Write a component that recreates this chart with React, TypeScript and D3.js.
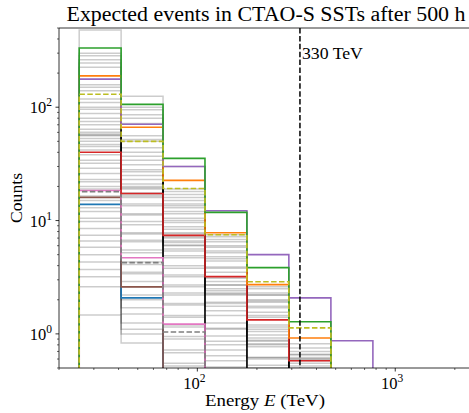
import React from "react";
import * as d3 from "d3";

const W = 469;
const H = 413;

const binEdges = [25.3, 41.2, 67.1, 109.3, 178, 290, 473, 771];

const greyModels: number[][] = [
  [480, 125, 30, 7.5, 2.2, 0.6, 0],
  [300, 100, 19, 7.2, 2.6, 0.82, 0],
  [285, 95, 18, 6.5, 2.3, 0.75, 0],
  [262, 86, 17, 6.8, 2.5, 0.7, 0],
  [245, 80, 16, 5.8, 2.0, 0.62, 0],
  [225, 72, 15, 6.0, 2.2, 0.65, 0],
  [158, 56, 14, 5.4, 1.9, 0.6, 0],
  [150, 52, 13, 4.8, 1.7, 0.55, 0],
  [140, 50, 13.5, 5.2, 1.95, 0.66, 0],
  [118, 44, 12, 4.4, 1.55, 0.5, 0],
  [110, 40, 11.5, 4.6, 1.75, 0.58, 0],
  [100, 37, 10.5, 3.9, 1.4, 0, 0],
  [96, 34, 10, 3.5, 1.2, 0, 0],
  [88, 31, 9.6, 3.8, 1.45, 0.52, 0],
  [80, 28, 8.8, 3.2, 1.1, 0, 0],
  [75, 27, 8.4, 3.1, 1.15, 0, 0],
  [70, 25, 7.6, 2.7, 0.92, 0, 0],
  [64, 23, 7.8, 2.9, 1.05, 0, 0],
  [60, 21, 7.0, 2.5, 0.88, 0, 0],
  [58, 19, 6.4, 2.3, 0.8, 0, 0],
  [57, 20, 6.6, 2.4, 0.86, 0, 0],
  [56, 19.5, 7.2, 2.7, 0.98, 0, 0],
  [53, 17, 5.6, 1.9, 0.62, 0, 0],
  [50, 17.5, 6.1, 2.2, 0.77, 0, 0],
  [47, 16, 5.4, 1.85, 0.6, 0, 0],
  [45, 16.5, 6.0, 2.25, 0.82, 0, 0],
  [42, 14, 4.7, 1.6, 0.53, 0, 0],
  [38, 13.5, 4.9, 1.75, 0.62, 0, 0],
  [34, 11.5, 3.8, 1.25, 0, 0, 0],
  [32, 11.2, 4.0, 1.45, 0.5, 0, 0],
  [29, 9.8, 3.3, 1.1, 0, 0, 0],
  [26, 9.2, 3.2, 1.12, 0, 0, 0],
  [23, 7.8, 2.6, 0.86, 0, 0, 0],
  [22, 7.6, 2.7, 0.96, 0, 0, 0],
  [20, 6.7, 2.2, 0.72, 0, 0, 0],
  [19, 6.5, 2.3, 0.8, 0, 0, 0],
  [16.5, 5.5, 1.8, 0.58, 0, 0, 0],
  [15, 5.2, 1.85, 0.64, 0, 0, 0],
  [13, 4.3, 1.4, 0, 0, 0, 0],
  [12, 4.1, 1.45, 0.51, 0, 0, 0],
  [10.5, 3.5, 1.15, 0, 0, 0, 0],
  [9.8, 3.4, 1.2, 0, 0, 0, 0],
  [8.5, 2.9, 0.95, 0, 0, 0, 0],
  [7.4, 2.6, 0.9, 0, 0, 0, 0],
  [6.6, 2.2, 0.72, 0, 0, 0, 0],
  [5.8, 2.0, 0.68, 0, 0, 0, 0],
  [5.0, 1.7, 0.55, 0, 0, 0, 0],
  [4.3, 1.5, 0.52, 0, 0, 0, 0],
  [3.7, 1.25, 0, 0, 0, 0, 0],
  [3.2, 1.1, 0, 0, 0, 0, 0],
  [2.6, 1.0, 0, 0, 0, 0, 0],
  [1.47, 0.83, 0, 0, 0, 0, 0],
];

const blueCounts = [13.9, 2.08, 0, 0, 0, 0, 0];
const brownCounts = [16, 2.6, 0, 0, 0, 0, 0];
const pinkCounts = [18.4, 4.7, 1.22, 0, 0, 0, 0];
const greyDashedCounts = [18, 4.25, 1.04, 0, 0, 0, 0];
const redCounts = [40, 17.3, 7.4, 3.2, 1.33, 0.58, 0];
const orangeCounts = [189, 66.6, 22.6, 7.8, 2.72, 0.92, 0];
const greenCounts = [333, 106, 35.4, 11.8, 3.84, 1.28, 0];
const purpleCounts = [177, 70.7, 30, 12.2, 5.0, 2.08, 0.87];
const oliveCounts = [130, 50, 19.2, 7.5, 2.88, 1.13, 0];

const cutoffEnergy = 330;
const xTickVals = [100, 1000];
const yTickVals = [1, 10, 100];

const M = { left: 59, right: 474, top: 28, bottom: 368 };

export default function App() {
  const x = d3.scaleLog().domain([20, 2500]).range([M.left, M.right]);
  const y = d3.scaleLog().domain([0.5, 500]).range([M.bottom, M.top]);
  const floorY = M.bottom + 50;
  const yy = (v: number) => (v > 0 ? y(v) : floorY);

  const stepPath = (counts: number[]) => {
    const pts: [number, number][] = [[x(binEdges[0]), floorY]];
    counts.forEach((c, i) => {
      pts.push([x(binEdges[i]), yy(c)]);
      pts.push([x(binEdges[i + 1]), yy(c)]);
    });
    pts.push([x(binEdges[binEdges.length - 1]), floorY]);
    return d3.line()(pts) || "";
  };

  const colored = [
    { c: blueCounts, col: "#1f77b4", dash: "" },
    { c: brownCounts, col: "#8c564b", dash: "" },
    { c: pinkCounts, col: "#e377c2", dash: "" },
    { c: greyDashedCounts, col: "#7f7f7f", dash: "5.5,2.4" },
    { c: redCounts, col: "#d62728", dash: "" },
    { c: orangeCounts, col: "#ff7f0e", dash: "" },
    { c: purpleCounts, col: "#9467bd", dash: "" },
    { c: greenCounts, col: "#2ca02c", dash: "" },
    { c: oliveCounts, col: "#bcbd22", dash: "5.5,2.4" },
  ];

  const xMinor: number[] = [];
  for (let d = 10; d <= 1000; d *= 10) {
    for (let k = 2; k <= 9; k++) {
      const v = d * k;
      if (v >= 20 && v <= 2500) xMinor.push(v);
    }
  }
  const yMinor: number[] = [];
  for (let d = 0.1; d <= 100; d *= 10) {
    for (let k = 2; k <= 9; k++) {
      const v = d * k;
      if (v >= 0.5 && v <= 500) yMinor.push(v);
    }
  }

  const font = "'Liberation Serif', 'DejaVu Serif', serif";

  return (
    <svg
      width={W}
      height={H}
      style={{ position: "absolute", left: 0, top: 0, background: "#fff" }}
      fontFamily={font}
    >
      <defs>
        <clipPath id="plot">
          <rect x={M.left} y={M.top} width={M.right - M.left} height={M.bottom - M.top} />
        </clipPath>
      </defs>
      <rect x={0} y={0} width={W} height={H} fill="#fff" />
      <g clipPath="url(#plot)">
        {greyModels.map((c, i) => (
          <path key={i} d={stepPath(c)} fill="none" stroke="#000" strokeOpacity={0.2} strokeWidth={1.5} />
        ))}
        {colored.map((s, i) => (
          <path
            key={"c" + i}
            d={stepPath(s.c)}
            fill="none"
            stroke={s.col}
            strokeWidth={1.6}
            strokeDasharray={s.dash || undefined}
          />
        ))}
        <line
          x1={x(cutoffEnergy)}
          x2={x(cutoffEnergy)}
          y1={M.top}
          y2={M.bottom}
          stroke="#000"
          strokeWidth={1.5}
          strokeDasharray="5.5,2.4"
        />
      </g>
      <text x={x(cutoffEnergy) + 2} y={59} fontSize={16.5} fill="#000" textLength={61} lengthAdjust="spacingAndGlyphs">330 TeV</text>

      {/* spines */}
      <line x1={M.left} x2={M.left} y1={M.top} y2={M.bottom} stroke="#000" strokeWidth={0.8} />
      <line x1={M.left} x2={M.right} y1={M.bottom} y2={M.bottom} stroke="#000" strokeWidth={0.8} />
      <line x1={M.left} x2={M.right} y1={M.top} y2={M.top} stroke="#000" strokeWidth={0.8} />
      <line x1={M.right} x2={M.right} y1={M.top} y2={M.bottom} stroke="#000" strokeWidth={0.8} />

      {/* x ticks */}
      {xMinor.map((v, i) => (
        <line key={"xm" + i} x1={x(v)} x2={x(v)} y1={M.bottom} y2={M.bottom + 2} stroke="#000" strokeWidth={0.6} />
      ))}
      {xTickVals.map((v, i) => (
        <g key={"xt" + i}>
          <line x1={x(v)} x2={x(v)} y1={M.bottom} y2={M.bottom + 3.5} stroke="#000" strokeWidth={0.8} />
          <text x={x(v) - 3} y={389} fontSize={16.5} textAnchor="middle" fill="#000">
            10
            <tspan fontSize={11.5} dy={-7}>{Math.round(Math.log10(v))}</tspan>
          </text>
        </g>
      ))}
      {/* y ticks */}
      {yMinor.map((v, i) => (
        <line key={"ym" + i} x1={M.left - 2} x2={M.left} y1={y(v)} y2={y(v)} stroke="#000" strokeWidth={0.6} />
      ))}
      {yTickVals.map((v, i) => (
        <g key={"yt" + i}>
          <line x1={M.left - 3.5} x2={M.left} y1={y(v)} y2={y(v)} stroke="#000" strokeWidth={0.8} />
          <text x={M.left - 7} y={y(v) + 6} fontSize={16.5} textAnchor="end" fill="#000">
            10
            <tspan fontSize={11.5} dy={-7}>{Math.round(Math.log10(v))}</tspan>
          </text>
        </g>
      ))}

      <text x={266} y={21} fontSize={20.5} textAnchor="middle" fill="#000" textLength={399} lengthAdjust="spacingAndGlyphs">
        Expected events in CTAO-S SSTs after 500 h
      </text>
      <text x={265} y={406} fontSize={17} textAnchor="middle" fill="#000" textLength={120} lengthAdjust="spacingAndGlyphs">
        Energy <tspan fontStyle="italic">E</tspan> (TeV)
      </text>
      <text
        transform={`translate(22,${(M.top + M.bottom) / 2}) rotate(-90)`}
        fontSize={17}
        textAnchor="middle"
        fill="#000"
        textLength={50}
        lengthAdjust="spacingAndGlyphs"
      >
        Counts
      </text>
    </svg>
  );
}
